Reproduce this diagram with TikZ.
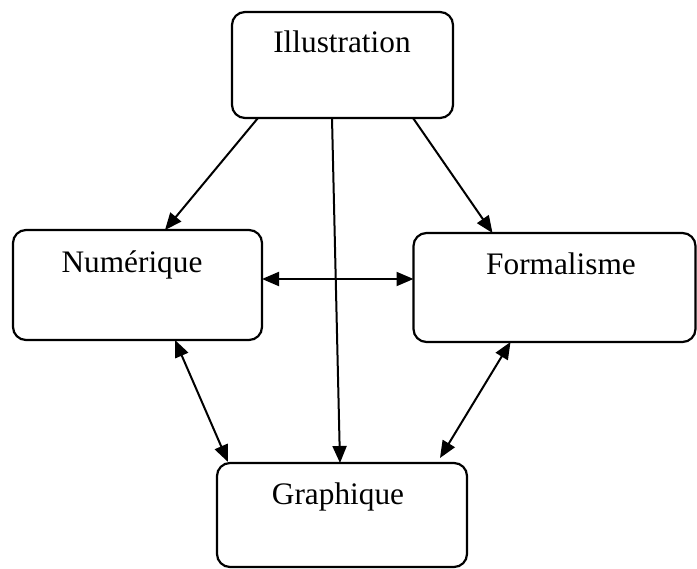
\documentclass[tikz,border=0pt]{standalone}
\usepackage{fontspec}
\setmainfont{Liberation Serif}
\usetikzlibrary{arrows.meta}
\tikzset{
  box/.style={draw, line width=2.2pt, rounded corners=13pt, inner sep=0pt, outer sep=0pt},
  lbl/.style={anchor=base, inner sep=0pt, font=\fontsize{31.3}{36}\selectfont},
  conn/.style={line width=2pt, -{Triangle[length=17pt,width=14pt]}},
  dconn/.style={line width=2pt, {Triangle[length=17pt,width=14pt]}-{Triangle[length=17pt,width=14pt]}}
}
\begin{document}
\begin{tikzpicture}[x=1pt,y=-1pt]
\useasboundingbox (0,0) rectangle (697,569);
% boxes
\node[box, minimum width=221pt, minimum height=106pt] (ill) at (342.5,65) {};
\node[box, minimum width=249pt, minimum height=110pt] (num) at (137.5,285) {};
\node[box, minimum width=282pt, minimum height=109pt] (form) at (554.5,287.5) {};
\node[box, minimum width=250pt, minimum height=104pt] (graph) at (342,515) {};
% labels
\node[lbl] (illt) at (342,53) {Illustration};
\node[lbl] (numt) at (132,273) {Numérique};
\node[lbl] (formt) at (561,275) {Formalisme};
\node[lbl] (grapht) at (338,505) {Graphique};
% connectors
\draw[conn] ([xshift=26pt]ill.south west) -- ([xshift=152pt]num.north west);
\draw[conn] ([xshift=181pt]ill.south west) -- ([xshift=79pt]form.north west);
\draw[conn] ([xshift=100pt]ill.south west) -- ([xshift=123pt]graph.north west);
\draw[dconn] ([yshift=6pt]num.east) -- ([yshift=8.5pt]form.west);
\draw[dconn] ([xshift=162pt]num.south west) -- ([xshift=11pt,yshift=1pt]graph.north west);
\draw[dconn] ([xshift=97pt]form.south west) -- ([xshift=-27pt,yshift=5pt]graph.north east);
\end{tikzpicture}
\end{document}
